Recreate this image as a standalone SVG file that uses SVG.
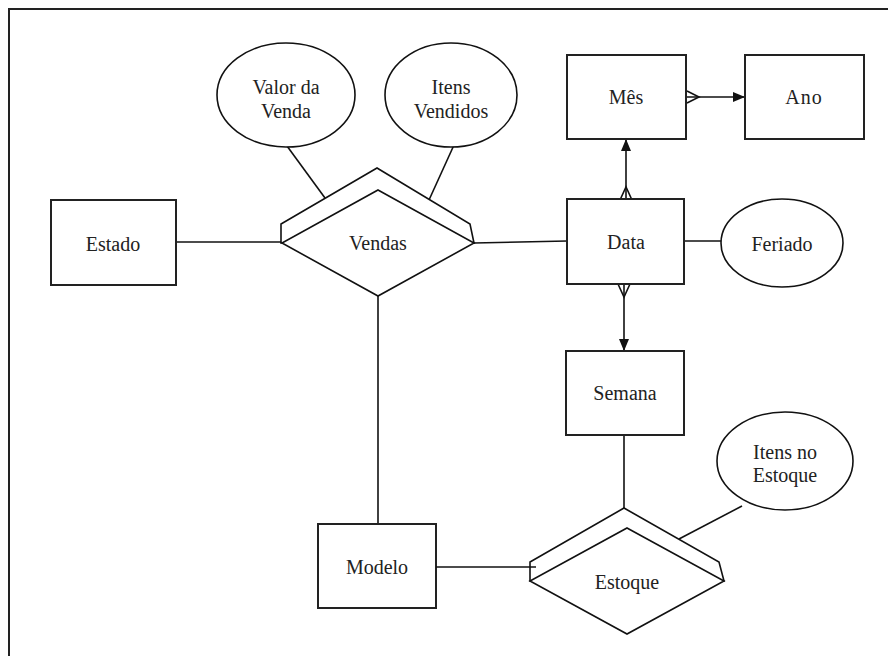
<svg xmlns="http://www.w3.org/2000/svg" width="888" height="656" viewBox="0 0 888 656">
<style>
.box{fill:#fff;stroke:#222;stroke-width:2}
.shp{fill:#fff;stroke:#111;stroke-width:1.6}
.ln{fill:none;stroke:#111;stroke-width:1.6}
text{font-family:"Liberation Serif","Times New Roman",serif;font-size:20px;fill:#222;text-anchor:middle}
</style>
<defs>
<marker id="arr" markerWidth="12" markerHeight="10" refX="12" refY="5" orient="auto" markerUnits="userSpaceOnUse">
<path d="M0,0 L12,5 L0,10 Z" fill="#111"/>
</marker>
</defs>
<rect x="9" y="9" width="900" height="700" fill="#fff" stroke="#222" stroke-width="2"/>
<g id="connectors">
<line class="ln" x1="176" y1="242" x2="282" y2="242"/>
<line class="ln" x1="474" y1="243" x2="567" y2="241"/>
<line class="ln" x1="684" y1="241" x2="721" y2="241"/>
<line class="ln" x1="287" y1="146" x2="325" y2="198"/>
<line class="ln" x1="454" y1="145" x2="429" y2="200"/>
<line class="ln" x1="378" y1="296" x2="378" y2="524"/>
<line class="ln" x1="624" y1="435" x2="624" y2="510"/>
<line class="ln" x1="742" y1="506" x2="679" y2="539"/>
<line class="ln" x1="686" y1="97" x2="745" y2="97" marker-end="url(#arr)"/>
<path class="ln" d="M687,91 L699,97 L687,103"/>
<line class="ln" x1="626" y1="200" x2="626" y2="139" marker-end="url(#arr)"/>
<path class="ln" d="M620,200 L626,187 L632,200"/>
<line class="ln" x1="624" y1="284" x2="624" y2="351" marker-end="url(#arr)"/>
<path class="ln" d="M618,284 L624,297 L630,284"/>
</g>
<g id="estado">
<rect class="box" x="51" y="200" width="125" height="85"/>
<text x="113" y="251">Estado</text>
</g>
<g id="vendas">
<path class="shp" d="M281,243 L281,224 L377,168 L470,224 L474,243 Z"/>
<path class="shp" d="M378,190 L474,243 L378,296 L282,243 Z"/>
<text x="378" y="250">Vendas</text>
</g>
<g id="valor-da-venda">
<ellipse class="shp" cx="286" cy="95" rx="69" ry="52"/>
<text x="286" y="94">Valor da</text>
<text x="286" y="118">Venda</text>
</g>
<g id="itens-vendidos">
<ellipse class="shp" cx="451" cy="95" rx="66" ry="52"/>
<text x="451" y="94">Itens</text>
<text x="451" y="118">Vendidos</text>
</g>
<g id="mes">
<rect class="box" x="567" y="55" width="119" height="84"/>
<text x="626" y="104">Mês</text>
</g>
<g id="ano">
<rect class="box" x="745" y="55" width="119" height="84"/>
<text x="804" y="104" letter-spacing="1">Ano</text>
</g>
<g id="data">
<rect class="box" x="567" y="199" width="117" height="85"/>
<text x="626" y="249">Data</text>
</g>
<g id="feriado">
<ellipse class="shp" cx="782" cy="243" rx="61" ry="44"/>
<text x="782" y="251">Feriado</text>
</g>
<g id="semana">
<rect class="box" x="566" y="351" width="118" height="84"/>
<text x="625" y="400">Semana</text>
</g>
<g id="itens-no-estoque">
<ellipse class="shp" cx="785" cy="461" rx="68" ry="49"/>
<text x="785" y="459">Itens no</text>
<text x="785" y="482">Estoque</text>
</g>
<g id="modelo">
<rect class="box" x="318" y="524" width="118" height="84"/>
<text x="377" y="574">Modelo</text>
</g>
<g id="estoque">
<path class="shp" d="M530,581 L530,562 L624,508 L719,562 L724,581 Z"/>
<path class="shp" d="M627,528 L724,581 L627,634 L530,581 Z"/>
<text x="627" y="589">Estoque</text>
</g>
<g id="connectors-top">
<line class="ln" x1="436" y1="567" x2="536" y2="567"/>
</g>
</svg>
